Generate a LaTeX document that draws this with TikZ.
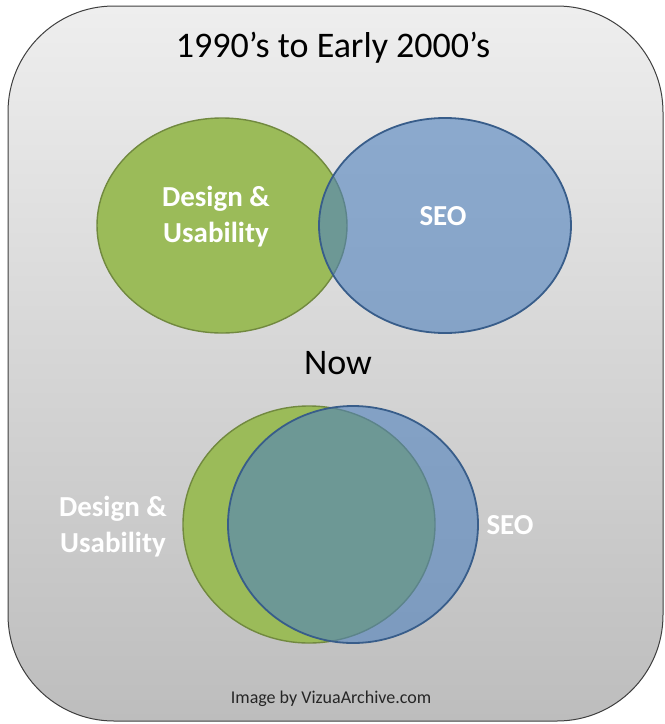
\documentclass[tikz,border=0pt]{standalone}
\usepackage{fontspec}
\setmainfont{Carlito}
\usetikzlibrary{shapes.geometric}
\definecolor{bgtop}{HTML}{EEEEEE}
\definecolor{bgbot}{HTML}{BDBDBD}
\definecolor{frameline}{HTML}{3F3F3F}
\definecolor{vgreen}{HTML}{9BBB59}
\definecolor{vgreenline}{HTML}{71893F}
\definecolor{vblue}{HTML}{4F81BD}
\definecolor{vblueline}{HTML}{385D8A}
\definecolor{credit}{HTML}{262626}
\tikzset{
  greenset/.style={ellipse, inner sep=0pt, fill=vgreen, draw=vgreenline, line width=1.4pt},
  blueset/.style={ellipse, inner sep=0pt, fill=vblue, fill opacity=0.6, draw=vblueline, draw opacity=1, line width=1.8pt},
  setlabel/.style={text=white, font=\fontsize{29}{36}\selectfont\bfseries, align=center, inner sep=0pt},
  heading/.style={text=black, font=\fontsize{36}{40}\selectfont, inner sep=0pt},
}
\begin{document}
\begin{tikzpicture}[x=1pt,y=-1pt]
\useasboundingbox (0,0) rectangle (665,724);
% frame
\shade[top color=bgtop, bottom color=bgbot, rounded corners=106pt] (8,6) rectangle (663,721);
\draw[frameline, line width=1pt, rounded corners=106pt] (8,6) rectangle (663,721);
% title
\node[heading, anchor=base] (title) at (333,57) {1990’s to Early 2000’s};
% top diagram
\node[greenset, minimum width=250pt, minimum height=215pt] (g1) at (222,225.5) {};
\node[blueset, minimum width=252pt, minimum height=215pt] (b1) at (445,225.5) {};
\node[setlabel] (l1) at (216,217) {Design \&\\Usability};
\node[setlabel] (s1) at (443,216) {SEO};
% now
\node[heading] (now) at (338,363.5) {Now};
% bottom diagram
\node[greenset, minimum width=252pt, minimum height=237pt] (g2) at (309,524.5) {};
\node[blueset, minimum width=250pt, minimum height=237pt] (b2) at (353,524.5) {};
\node[setlabel] (l2) at (113,527) {Design \&\\Usability};
\node[setlabel] (s2) at (510,525) {SEO};
% credit
\node[text=credit, font=\fontsize{18}{20}\selectfont, anchor=base, inner sep=0pt] (cr) at (331,703) {Image by VizuaArchive.com};
\end{tikzpicture}
\end{document}
